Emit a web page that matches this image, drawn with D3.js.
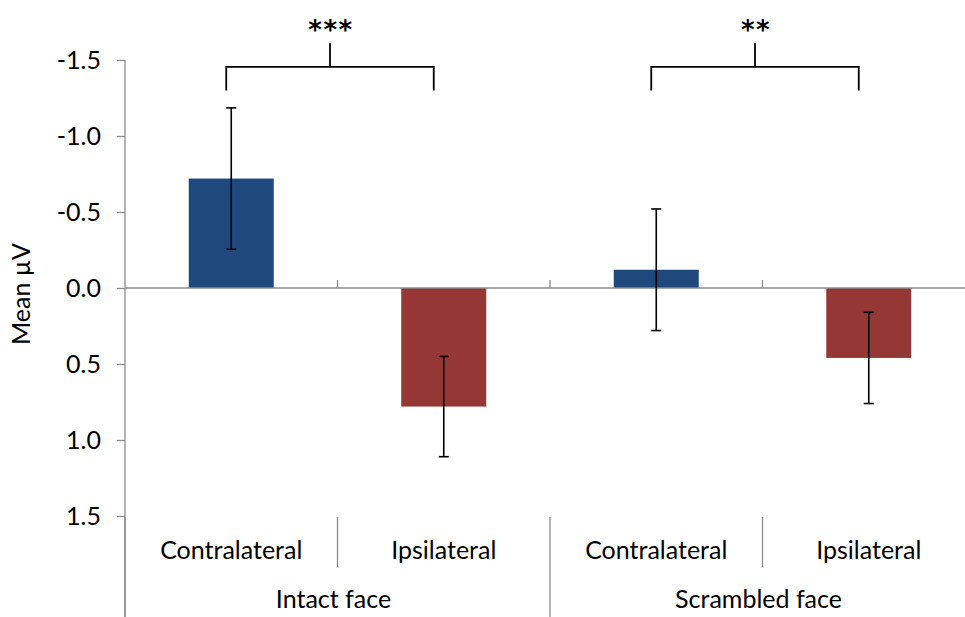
<!DOCTYPE html>
<html>
<head>
<meta charset="utf-8">
<script src="https://cdn.jsdelivr.net/npm/d3@7"></script>
<style>
  html, body { margin: 0; padding: 0; background: #fff; }
  svg { display: block; font-family: Lato, "Open Sans", sans-serif; }
</style>
</head>
<body>
<svg id="chart" width="965" height="617"></svg>
<script>
// Stimulus groups and electrode sides
const groups = ["Intact face", "Scrambled face"];
const sides = ["Contralateral", "Ipsilateral"];

// Mean amplitude (µV) and its error, one per group × side
const means = [-0.72, 0.78, -0.12, 0.46];
const errors = [0.465, 0.33, 0.40, 0.30];

// Axis ticks (negative up)
const yTicks = [-1.5, -1.0, -0.5, 0.0, 0.5, 1.0, 1.5];

// Significance brackets: which bars they join and their label
const brackets = [
  { from: 0, to: 1, label: "***" },
  { from: 2, to: 3, label: "**" }
];

const colors = { Contralateral: "#1F497D", Ipsilateral: "#953735" };
const axisGrey = "#8c8c8c";
const fontSize = 25;

const svg = d3.select("#chart");
const W = 965, H = 617;

const plotLeft = 125, plotRight = 975, plotTop = 60, plotBottom = 516;

// one band per bar, ordered group by group
const bars = [];
groups.forEach((g, gi) => sides.forEach((s, si) => {
  const i = gi * sides.length + si;
  bars.push({ key: g + "|" + s, group: g, side: s, mean: means[i], err: errors[i] });
}));

const x = d3.scaleBand()
  .domain(bars.map(d => d.key))
  .range([plotLeft, plotRight])
  .paddingInner(0.6)
  .paddingOuter(0.3);

const xGroup = d3.scaleBand()
  .domain(groups)
  .range([plotLeft, plotRight]);

const y = d3.scaleLinear()
  .domain([-1.5, 1.5])
  .range([plotTop, plotBottom]);

const cx = d => x(d.key) + x.bandwidth() / 2;

const root = svg.append("g");

// bars from zero
root.append("g").selectAll("rect")
  .data(bars)
  .join("rect")
  .attr("x", d => x(d.key))
  .attr("width", x.bandwidth())
  .attr("y", d => Math.min(y(0), y(d.mean)))
  .attr("height", d => Math.abs(y(d.mean) - y(0)))
  .attr("fill", d => colors[d.side]);

// y axis
const yAxis = d3.axisLeft(y)
  .tickValues(yTicks)
  .tickFormat(d3.format(".1f"))
  .tickSize(8)
  .tickPadding(16);

const ya = root.append("g")
  .attr("transform", `translate(${plotLeft},0)`)
  .call(yAxis);
ya.select(".domain").remove();
ya.selectAll(".tick line").attr("stroke", axisGrey).attr("stroke-width", 1.3);
ya.selectAll(".tick text")
  .attr("font-size", fontSize)
  .attr("font-family", "Lato, sans-serif")
  .attr("fill", "#000")
  .text(d => d3.format(".1f")(d).replace("−", "-"));

// vertical axis line running down through the category labels
root.append("line")
  .attr("x1", plotLeft).attr("x2", plotLeft)
  .attr("y1", plotTop).attr("y2", H)
  .attr("stroke", axisGrey).attr("stroke-width", 1.3);

// horizontal axis at zero with upward ticks at category boundaries
root.append("line")
  .attr("x1", plotLeft).attr("x2", plotRight)
  .attr("y1", y(0)).attr("y2", y(0))
  .attr("stroke", axisGrey).attr("stroke-width", 1.3);

const boundaries = bars.slice(1).map(d => x(d.key) - x.step() * x.paddingInner() / 2);
root.append("g").selectAll("line")
  .data(boundaries)
  .join("line")
  .attr("x1", d => d).attr("x2", d => d)
  .attr("y1", y(0) - 8).attr("y2", y(0))
  .attr("stroke", axisGrey).attr("stroke-width", 1.3);

// error bars
const eb = root.append("g").attr("stroke", "#000").attr("stroke-width", 1.6);
bars.forEach(d => {
  const c = cx(d);
  eb.append("line").attr("x1", c).attr("x2", c)
    .attr("y1", y(d.mean - d.err)).attr("y2", y(d.mean + d.err));
  [d.mean - d.err, d.mean + d.err].forEach(v => {
    eb.append("line").attr("x1", c - 5).attr("x2", c + 5)
      .attr("y1", y(v)).attr("y2", y(v));
  });
});

// category label tiers below the plot
const tierTop = plotBottom + 1;
const innerBoundaries = groups.map(g => xGroup(g) + xGroup.bandwidth() / 2);
const outerBoundaries = groups.map(g => xGroup(g)).concat([plotRight]);

root.append("g").selectAll("line")
  .data(innerBoundaries)
  .join("line")
  .attr("x1", d => d).attr("x2", d => d)
  .attr("y1", tierTop).attr("y2", tierTop + 50)
  .attr("stroke", axisGrey).attr("stroke-width", 1.3);

root.append("g").selectAll("line")
  .data(outerBoundaries)
  .join("line")
  .attr("x1", d => d).attr("x2", d => d)
  .attr("y1", tierTop).attr("y2", H)
  .attr("stroke", axisGrey).attr("stroke-width", 1.3);

root.append("g").selectAll("text")
  .data(bars)
  .join("text")
  .attr("x", d => cx(d))
  .attr("y", 559)
  .attr("text-anchor", "middle")
  .attr("font-size", fontSize)
  .text(d => d.side);

root.append("g").selectAll("text")
  .data(groups)
  .join("text")
  .attr("x", g => xGroup(g) + xGroup.bandwidth() / 2 - 4)
  .attr("y", 608)
  .attr("text-anchor", "middle")
  .attr("font-size", fontSize)
  .text(g => g);

// y axis title
root.append("text")
  .attr("transform", "translate(30,294) rotate(-90)")
  .attr("text-anchor", "middle")
  .attr("font-size", fontSize)
  .text("Mean µV");

// significance brackets
const bg = root.append("g").attr("fill", "none").attr("stroke", "#000").attr("stroke-width", 1.8);
brackets.forEach(b => {
  const x1 = cx(bars[b.from]) - 5;
  const x2 = cx(bars[b.to]) - 10;
  const xm = (x1 + x2) / 2;
  const yBar = y(-1.455), yLeg = y(-1.30), yStem = y(-1.61);
  bg.append("path").attr("d", `M${x1},${yLeg}V${yBar}H${x2}V${yLeg}`);
  bg.append("line").attr("x1", xm).attr("x2", xm).attr("y1", yBar).attr("y2", yStem);
  root.append("text")
    .attr("x", xm + 1)
    .attr("y", 39)
    .attr("text-anchor", "middle")
    .attr("font-family", "DejaVu Sans, sans-serif")
    .attr("font-weight", "bold")
    .attr("font-size", 26)
    .attr("letter-spacing", 1.5)
    .text(b.label);
});
</script>
</body>
</html>
